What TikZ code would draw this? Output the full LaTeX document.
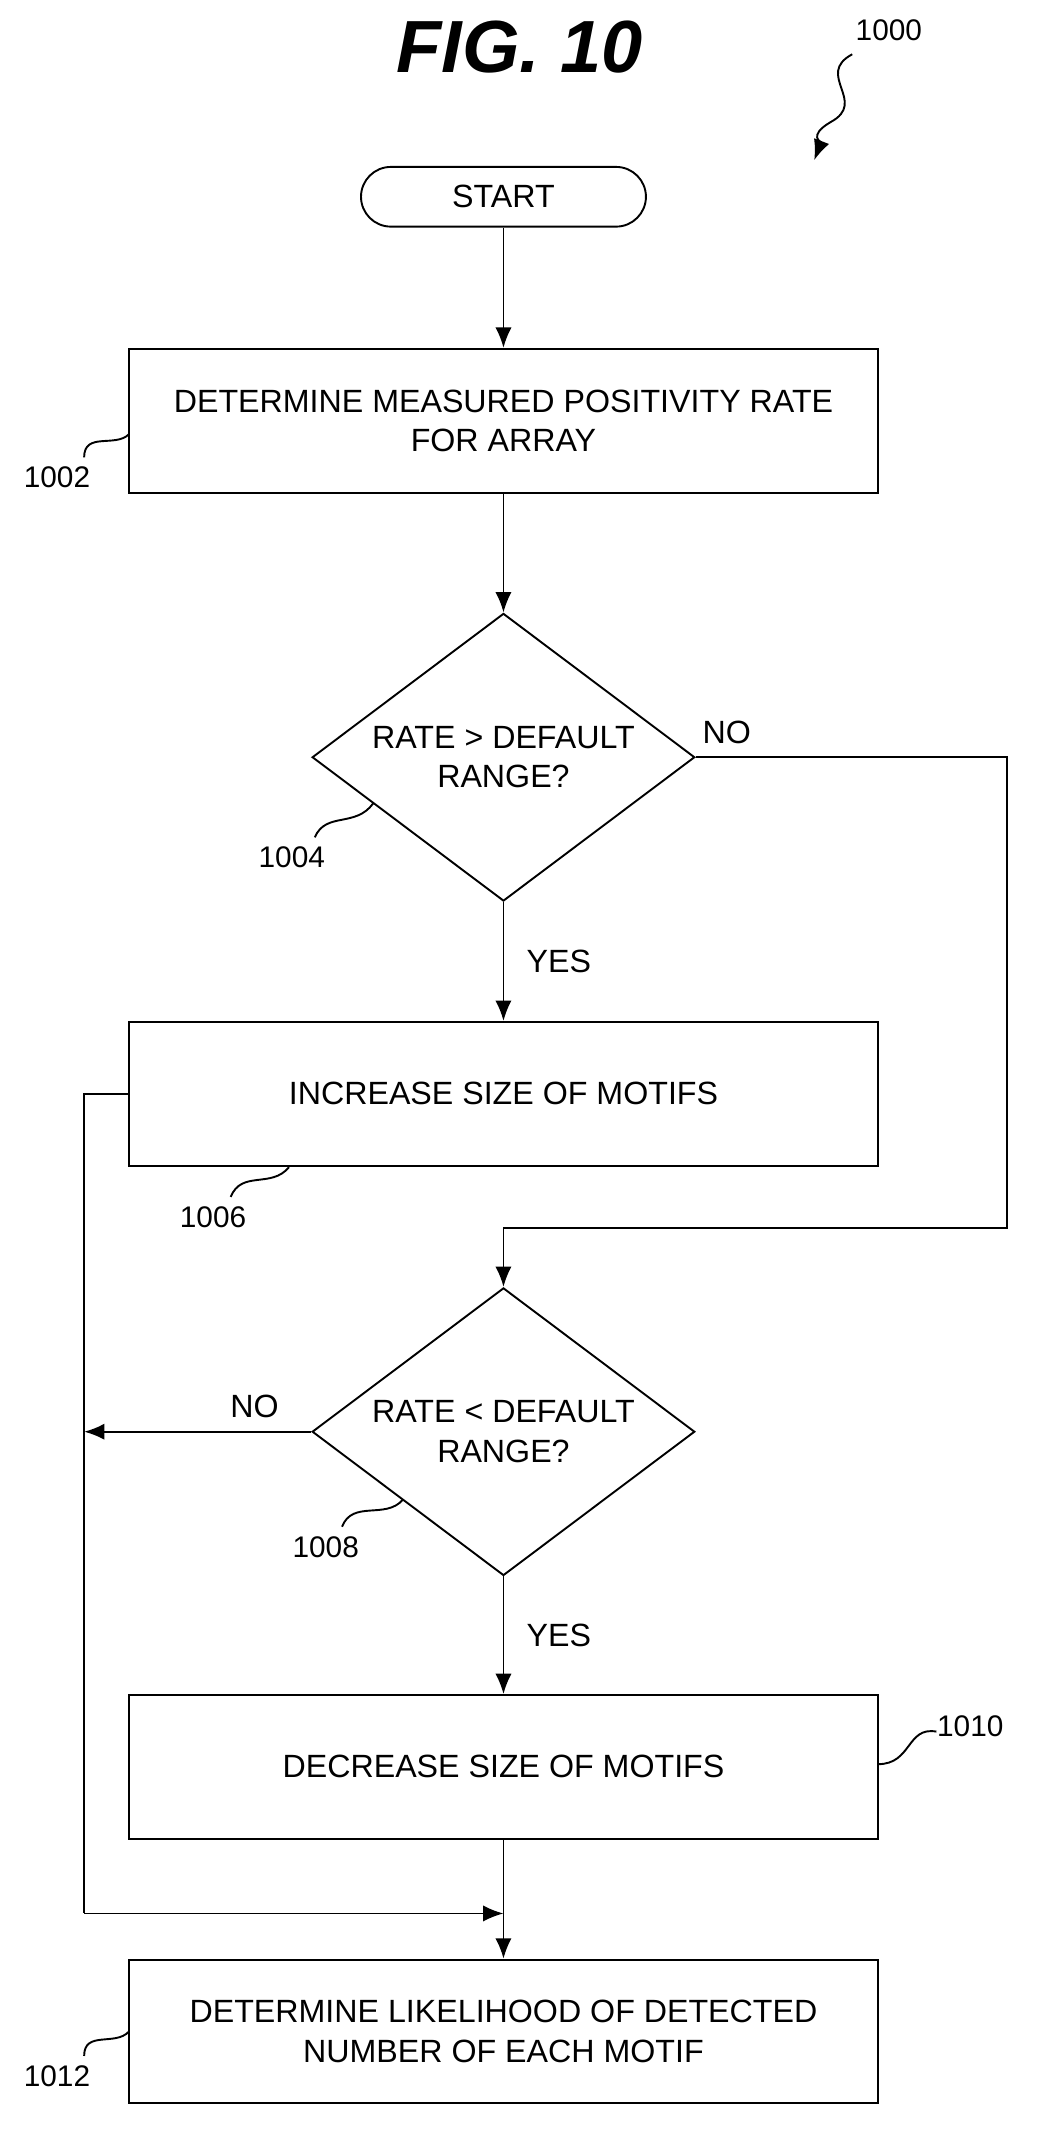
\documentclass[tikz,border=0pt]{standalone}
\usepackage{fontspec}
\setmainfont{Liberation Sans}
\usetikzlibrary{shapes.geometric,arrows.meta,positioning}

\begin{document}
\begin{tikzpicture}
  [x=0.02cm, y=-0.02cm,
    every node/.style={font=\fontsize{13.5}{16.5}\selectfont, align=center},
    box/.style={draw, thick, minimum width=11.04cm, minimum height=2.12cm, inner sep=0pt},
    term/.style={draw, thick, rounded corners=0.44cm, minimum width=4.2cm, minimum height=0.88cm},
    dec/.style={draw, thick, diamond, aspect=1.33, minimum width=5.64cm, minimum height=4.24cm, inner sep=0pt},
    line/.style={thick},
    arr/.style={thick, -{Latex[length=3mm,width=2.4mm]}},
    ref/.style={font=\fontsize{12.5}{14}\selectfont},
    squig/.style={thick},
]
  \useasboundingbox (0,0) rectangle (768,1588);

  % title
  \node[font=\fontsize{31}{34}\bfseries\itshape\selectfont] (title) at (383,35) {FIG. 10};
  \node[ref] (n1000) at (655,22) {1000};
  \draw[arr] (628,40) .. controls (600,55) and (640,75) .. (612,90)
    .. controls (595,100) and (605,105) .. (600,118);

  % nodes
  \node[term] (start) at (371,145) {START};
  \node[box] (b1002) at (371,310) {DETERMINE MEASURED POSITIVITY RATE\\FOR ARRAY};
  \node[dec] (d1004) at (371,558) {RATE \textgreater{} DEFAULT\\RANGE?};
  \node[box] (b1006) at (371,806) {INCREASE SIZE OF MOTIFS};
  \node[dec] (d1008) at (371,1055) {RATE \textless{} DEFAULT\\RANGE?};
  \node[box] (b1010) at (371,1302) {DECREASE SIZE OF MOTIFS};
  \node[box] (b1012) at (371,1497) {DETERMINE LIKELIHOOD OF DETECTED\\NUMBER OF EACH MOTIF};

  \coordinate (c1) at (742,558);
  \coordinate (c2) at (742,905);
  \coordinate (c3) at (371,905);
  \coordinate (c4) at (62,806);
  \coordinate (c5) at (62,1410);
  \coordinate (c6) at (371,1410);
  \coordinate (c7) at (62,1055);

  % connectors
  \draw[arr] (start) -- (b1002);
  \draw[arr] (b1002) -- (d1004);
  \draw[arr] (d1004) -- node[right=6pt] {YES} (b1006);
  \draw[line] (d1004.east) -- node[pos=0.1, above=2pt] {NO} (c1) -- (c2) -- (c3);
  \draw[arr] (c3) -- (d1008);
  \draw[arr] (d1008) -- node[right=6pt] {YES} (b1010);
  \draw[arr] (d1008.west) -- node[pos=0.25, above=2pt] {NO} (c7);
  \draw[line] (b1006.west) -- (c4) -- (c5);
  \draw[arr] (c5) -- (c6);
  \draw[arr] (b1010) -- (b1012);

  % reference numerals
  \node[ref] (n1002) at (42,352) {1002};
  \draw[squig] (62,337) .. controls (62,318) and (85,330) .. (95,320);
  \node[ref] (n1004) at (215,632) {1004};
  \draw[squig] (232,617) .. controls (240,598) and (262,610) .. (275,592);
  \node[ref] (n1006) at (157,897) {1006};
  \draw[squig] (170,882) .. controls (178,862) and (200,876) .. (213,860);
  \node[ref] (n1008) at (240,1140) {1008};
  \draw[squig] (252,1125) .. controls (260,1105) and (284,1120) .. (297,1105);
  \node[ref] (n1010) at (715,1272) {1010};
  \draw[squig] (690,1276) .. controls (668,1272) and (672,1300) .. (647,1300);
  \node[ref] (n1012) at (42,1530) {1012};
  \draw[squig] (62,1515) .. controls (62,1496) and (85,1508) .. (95,1497);
\end{tikzpicture}
\end{document}
